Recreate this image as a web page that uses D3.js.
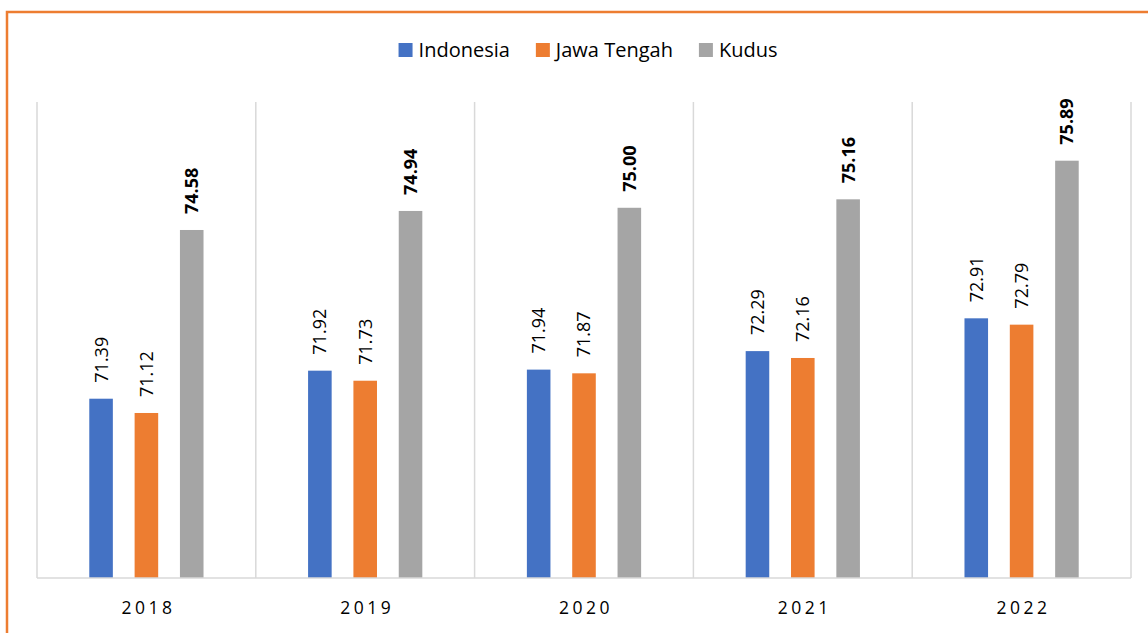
<!DOCTYPE html>
<html>
<head>
<meta charset="utf-8">
<script src="https://cdn.jsdelivr.net/npm/d3@7"></script>
<style>
  body { margin: 0; background: #fff; }
  svg { display: block; font-family: "Open Sans", "Liberation Sans", sans-serif; }
</style>
</head>
<body>
<svg id="chart" width="1148" height="633"></svg>
<script>
// Data
const years = ["2018", "2019", "2020", "2021", "2022"];
const seriesNames = ["Indonesia", "Jawa Tengah", "Kudus"];
const indonesia = [71.39, 71.92, 71.94, 72.29, 72.91];
const jawaTengah = [71.12, 71.73, 71.87, 72.16, 72.79];
const kudus = [74.58, 74.94, 75.00, 75.16, 75.89];
const colors = ["#4472C4", "#ED7D31", "#A5A5A5"];

const seriesValues = [indonesia, jawaTengah, kudus];

const width = 1148, height = 633;
const margin = { left: 37, right: 17, top: 102, bottom: 55 };
const plotBottom = height - margin.bottom;

const svg = d3.select("#chart");

// Orange frame (cut at right and bottom like the original)
svg.append("rect")
    .attr("x", 7)
    .attr("y", 12)
    .attr("width", width)
    .attr("height", height)
    .attr("fill", "none")
    .attr("stroke", "#ED7D31")
    .attr("stroke-width", 2.5);

// Scales
const x = d3.scaleBand()
    .domain(years)
    .range([margin.left, width - margin.right])
    .padding(0);

const groupWidth = 136;
const xInner = d3.scaleBand()
    .domain(seriesNames)
    .range([(x.bandwidth() - groupWidth) / 2, (x.bandwidth() + groupWidth) / 2])
    .paddingInner(0.48)
    .paddingOuter(0.24);

const y = d3.scaleLinear()
    .domain([68, 77])
    .range([plotBottom, margin.top]);

// Vertical category separators
const bounds = years.map(d => x(d)).concat([x(years[years.length - 1]) + x.bandwidth()]);
svg.append("g")
    .selectAll("line")
    .data(bounds)
    .join("line")
    .attr("x1", d => d)
    .attr("x2", d => d)
    .attr("y1", margin.top)
    .attr("y2", plotBottom)
    .attr("stroke", "#D9D9D9")
    .attr("stroke-width", 1.5);

// Rows for bars
const rows = [];
years.forEach((yr, i) => {
    seriesNames.forEach((s, j) => {
        rows.push({ year: yr, series: s, value: seriesValues[j][i], color: colors[j], bold: j === 2 });
    });
});

svg.append("g")
    .selectAll("rect")
    .data(rows)
    .join("rect")
    .attr("x", d => x(d.year) + xInner(d.series))
    .attr("y", d => y(d.value))
    .attr("width", xInner.bandwidth())
    .attr("height", d => plotBottom - y(d.value))
    .attr("fill", d => d.color);

// Baseline
svg.append("line")
    .attr("x1", margin.left)
    .attr("x2", width - margin.right)
    .attr("y1", plotBottom)
    .attr("y2", plotBottom)
    .attr("stroke", "#D9D9D9")
    .attr("stroke-width", 1.5);

// Rotated value labels
svg.append("g")
    .selectAll("text")
    .data(rows)
    .join("text")
    .attr("transform", d => {
        const cx = x(d.year) + xInner(d.series) + xInner.bandwidth() / 2;
        return `translate(${cx},${y(d.value) - 16})rotate(-90)`;
    })
    .attr("dy", "0.36em")
    .attr("font-size", "18px")
    .attr("font-weight", d => d.bold ? "bold" : "normal")
    .attr("fill", "#000")
    .text(d => d.value.toFixed(2));

// Category labels
svg.append("g")
    .selectAll("text")
    .data(years)
    .join("text")
    .attr("x", d => x(d) + x.bandwidth() / 2 + 2)
    .attr("y", 614)
    .attr("text-anchor", "middle")
    .attr("font-size", "17.5px")
    .attr("letter-spacing", "3.5px")
    .attr("fill", "#000")
    .text(d => d);

// Legend
const legend = svg.append("g");
const items = legend.selectAll("g")
    .data(seriesNames)
    .join("g");
items.append("rect")
    .attr("width", 14)
    .attr("height", 14)
    .attr("y", -7)
    .attr("fill", (d, i) => colors[i]);
items.append("text")
    .attr("x", 20)
    .attr("dy", "0.35em")
    .attr("font-size", "20px")
    .attr("fill", "#000")
    .text(d => d);

let offset = 0;
items.each(function() {
    const g = d3.select(this);
    const w = g.select("text").node().getComputedTextLength();
    g.attr("transform", `translate(${offset},0)`);
    offset += 20 + w + 26;
});
const total = offset - 26;
legend.attr("transform", `translate(${588 - total / 2},50)`);
</script>
</body>
</html>
